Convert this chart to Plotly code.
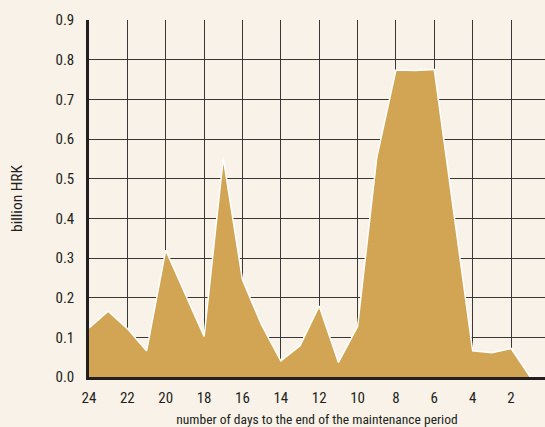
import plotly.graph_objects as go

# Days to the end of the maintenance period and daily amounts (billion HRK)
days = [24, 23, 22, 21, 20, 19, 18, 17, 16, 15, 14, 13, 12, 11, 10, 9, 8, 7, 6, 5, 4, 3, 2, 1]
amounts = [0.124, 0.166, 0.122, 0.066, 0.320, 0.210, 0.102, 0.552, 0.245, 0.131, 0.041, 0.079,
           0.179, 0.037, 0.127, 0.553, 0.774, 0.773, 0.775, 0.420, 0.066, 0.061, 0.072, 0.0]
x_ticks = [24, 22, 20, 18, 16, 14, 12, 10, 8, 6, 4, 2]
y_ticks = [0.0, 0.1, 0.2, 0.3, 0.4, 0.5, 0.6, 0.7, 0.8, 0.9]

BG = "#F8F2E8"
FILL = "#D1A554"
GRID = "#3a3636"
AXIS = "#231F20"
FONT = "Roboto Condensed, Liberation Sans Narrow, sans-serif"

fig = go.Figure()
fig.add_trace(go.Scatter(
    x=days, y=amounts, mode="lines", fill="tozeroy",
    fillcolor=FILL, line=dict(color="white", width=1.5),
    hoverinfo="x+y", showlegend=False,
))

fig.update_layout(
    width=545, height=427,
    margin=dict(l=89, r=0, t=20, b=50),
    paper_bgcolor=BG, plot_bgcolor=BG,
    font=dict(family=FONT, size=15, color="#231F20"),
    xaxis=dict(
        range=[24, 0.23], tickvals=x_ticks, ticktext=[str(v) for v in x_ticks],
        showgrid=True, gridcolor=GRID, gridwidth=1.3,
        showline=True, linecolor=AXIS, linewidth=2.5,
        ticks="", ticklabelstandoff=5, zeroline=False,
        title=dict(text="number of days to the end of the maintenance period",
                   font=dict(size=13.5), standoff=9),
    ),
    yaxis=dict(
        range=[0, 0.9], tickvals=y_ticks, tickformat=".1f",
        showgrid=True, gridcolor=GRID, gridwidth=1.3,
        showline=True, linecolor=AXIS, linewidth=2.5,
        ticks="", ticklabelstandoff=9, zeroline=False,
        title=dict(text="billion HRK", font=dict(size=15.5), standoff=30),
    ),
)

fig.write_html("out.html")
